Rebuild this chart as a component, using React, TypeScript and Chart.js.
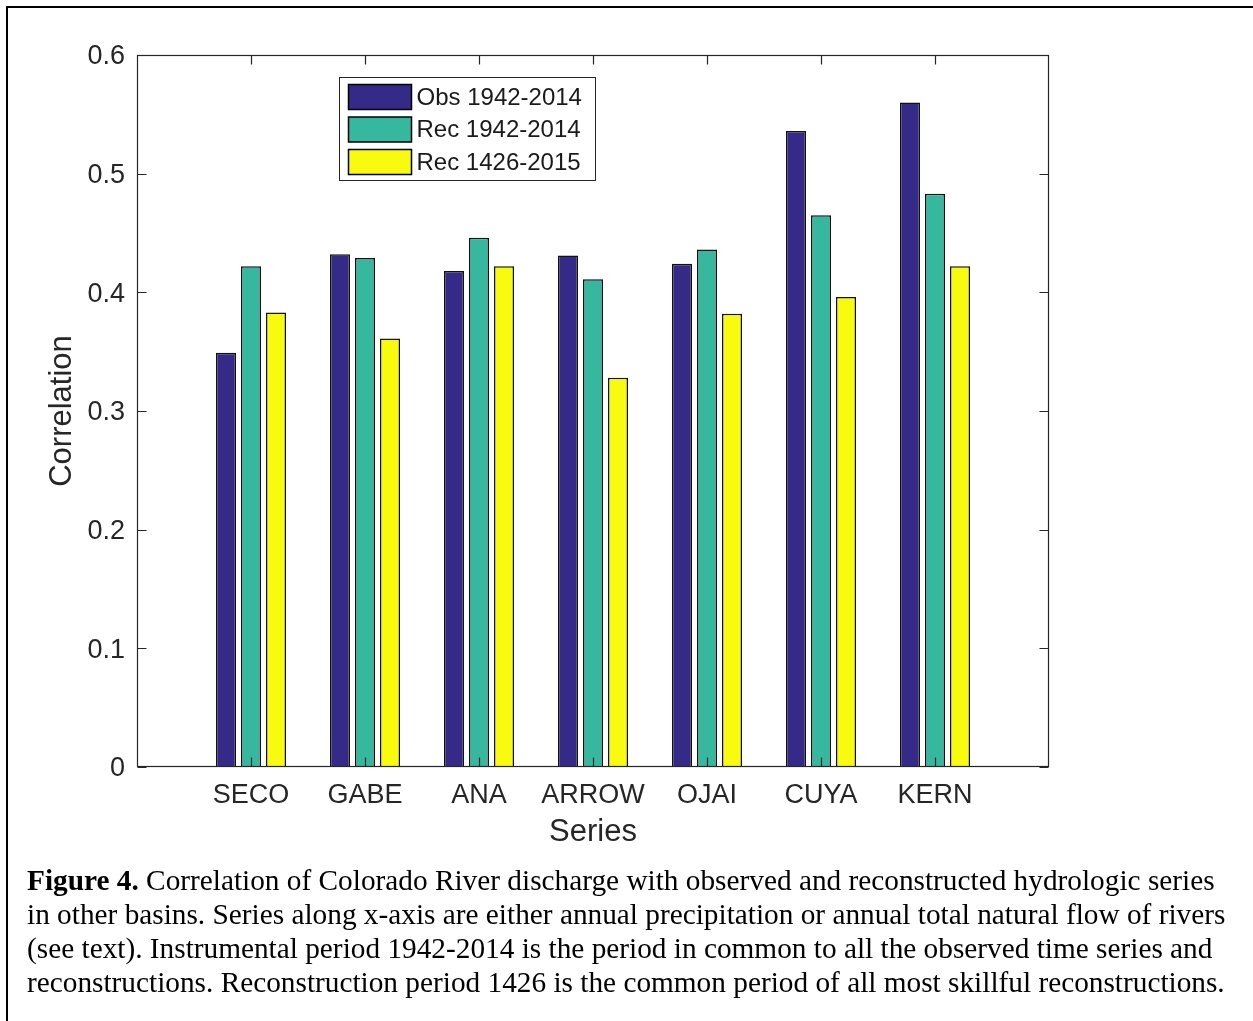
import React, { useEffect, useRef } from "react";
import { Chart, registerables } from "chart.js";

Chart.register(...registerables);

const CATEGORIES = ["SECO", "GABE", "ANA", "ARROW", "OJAI", "CUYA", "KERN"];
const OBS_1942_2014 = [0.349, 0.432, 0.418, 0.431, 0.424, 0.536, 0.56];
const REC_1942_2014 = [0.422, 0.429, 0.446, 0.411, 0.436, 0.465, 0.483];
const REC_1426_2015 = [0.383, 0.361, 0.422, 0.328, 0.382, 0.396, 0.422];
const SERIES_LABELS = ["Obs 1942-2014", "Rec 1942-2014", "Rec 1426-2015"];
const SERIES_COLORS = ["#352A87", "#35B89D", "#F9FB0E"];
const Y_TICKS = [0, 0.1, 0.2, 0.3, 0.4, 0.5, 0.6];
const CAPTION_LINES = [
  " Correlation of Colorado River discharge with observed and reconstructed hydrologic series",
  "in other basins. Series along x-axis are either annual precipitation or annual total natural flow of rivers",
  "(see text). Instrumental period 1942-2014 is the period in common to all the observed time series and",
  "reconstructions. Reconstruction period 1426 is the common period of all most skillful reconstructions.",
];

const AXIS_COLOR = "#262626";
const SANS = "'Liberation Sans', Arial, Helvetica, sans-serif";

const framePlugin = {
  id: "matlabFrame",
  afterDatasetsDraw(chart: any) {
    const { ctx, chartArea: a, scales } = chart;
    const xs = scales.x;
    const ys = scales.y;
    ctx.save();
    ctx.strokeStyle = AXIS_COLOR;
    ctx.lineWidth = 1.2;
    const L = Math.round(a.left) + 0.5;
    const R = Math.round(a.right) - 0.5;
    const T = Math.round(a.top) + 0.5;
    const B = Math.round(a.bottom) - 0.5;
    ctx.strokeRect(L, T, R - L, B - T);
    const tl = 9;
    ctx.beginPath();
    for (const v of Y_TICKS) {
      const py = Math.round(ys.getPixelForValue(v)) + 0.5;
      ctx.moveTo(L, py);
      ctx.lineTo(L + tl, py);
      ctx.moveTo(R, py);
      ctx.lineTo(R - tl, py);
    }
    for (let i = 0; i < CATEGORIES.length; i++) {
      const px = Math.round(xs.getPixelForValue(i + 1)) + 0.5;
      ctx.moveTo(px, B);
      ctx.lineTo(px, B - tl);
      ctx.moveTo(px, T);
      ctx.lineTo(px, T + tl);
    }
    ctx.stroke();

    // legend box
    const lx = a.left + 202.5;
    const ly = a.top + 22.5;
    const lw = 256;
    const lh = 103;
    ctx.fillStyle = "#ffffff";
    ctx.fillRect(lx, ly, lw, lh);
    ctx.strokeStyle = AXIS_COLOR;
    ctx.lineWidth = 1;
    ctx.strokeRect(lx, ly, lw, lh);
    ctx.font = `24px ${SANS}`;
    ctx.textBaseline = "middle";
    ctx.textAlign = "left";
    chart.data.datasets.forEach((ds: any, i: number) => {
      const sy = ly + 7 + i * 32.5;
      ctx.fillStyle = ds.backgroundColor;
      ctx.fillRect(lx + 9, sy, 63, 25);
      ctx.strokeStyle = "#000";
      ctx.lineWidth = 1.5;
      ctx.strokeRect(lx + 9, sy, 63, 25);
      ctx.fillStyle = "#1a1a1a";
      ctx.fillText(ds.label, lx + 77, sy + 13.5);
    });
    ctx.restore();
  },
};

export default function App() {
  const ref = useRef<HTMLCanvasElement | null>(null);

  useEffect(() => {
    if (!ref.current) return;
    const seriesValues = [OBS_1942_2014, REC_1942_2014, REC_1426_2015];
    const chart = new Chart(ref.current, {
      type: "bar",
      data: {
        datasets: seriesValues.map((vals, si) => ({
          label: SERIES_LABELS[si],
          data: vals.map((v, i) => ({ x: i + 1, y: v })),
          backgroundColor: SERIES_COLORS[si],
          borderColor: "#111111",
          borderWidth: 1.5,
          categoryPercentage: 0.658,
          barPercentage: 0.8,
        })),
      },
      options: {
        responsive: false,
        animation: false,
        layout: { padding: { left: 0, top: 55, right: 204, bottom: 0 } },
        plugins: {
          legend: { display: false },
          tooltip: { enabled: false },
        },
        scales: {
          x: {
            type: "linear",
            min: 0,
            max: 8,
            offset: false,
            grid: { display: false, drawTicks: false },
            border: { display: false },
            ticks: {
              stepSize: 1,
              autoSkip: false,
              maxRotation: 0,
              padding: 12,
              color: AXIS_COLOR,
              font: { family: SANS, size: 27 },
              callback: (v: any) => CATEGORIES[Number(v) - 1] ?? "",
            },
            title: {
              display: true,
              text: "Series",
              color: AXIS_COLOR,
              font: { family: SANS, size: 31 },
              padding: { top: 0, bottom: 19 },
            },
            afterFit: (s: any) => {
              s.height = 103;
            },
          },
          y: {
            min: 0,
            max: 0.6,
            grid: { display: false, drawTicks: false },
            border: { display: false },
            ticks: {
              stepSize: 0.1,
              padding: 12,
              labelOffset: 2,
              color: AXIS_COLOR,
              font: { family: SANS, size: 27 },
              callback: (v: any) => String(Number(Number(v).toFixed(1))),
            },
            title: {
              display: true,
              text: "Correlation",
              color: AXIS_COLOR,
              font: { family: SANS, size: 31 },
              padding: { top: 44, bottom: 0 },
            },
            afterFit: (s: any) => {
              s.width = 137;
            },
          },
        },
      } as any,
      plugins: [framePlugin],
    });
    return () => chart.destroy();
  }, []);

  return (
    <div
      style={{
        position: "absolute",
        left: 0,
        top: 0,
        width: 1253,
        height: 1021,
        overflow: "hidden",
        background: "#fff",
      }}
    >
      <div
        style={{
          position: "absolute",
          left: 6,
          top: 6,
          width: 1400,
          height: 1200,
          border: "2px solid #000",
          boxSizing: "border-box",
        }}
      />
      <canvas
        ref={ref}
        width={1253}
        height={870}
        style={{ position: "absolute", left: 0, top: 0, width: 1253, height: 870 }}
      />
      <div
        style={{
          position: "absolute",
          left: 27,
          top: 863,
          fontFamily: "'Liberation Serif', 'Times New Roman', serif",
          fontSize: 29.3,
          lineHeight: "34px",
          color: "#000",
          whiteSpace: "pre",
        }}
      >
        {CAPTION_LINES.map((line, i) => (
          <div key={i}>
            {i === 0 && <b>Figure 4.</b>}
            {line}
          </div>
        ))}
      </div>
    </div>
  );
}
